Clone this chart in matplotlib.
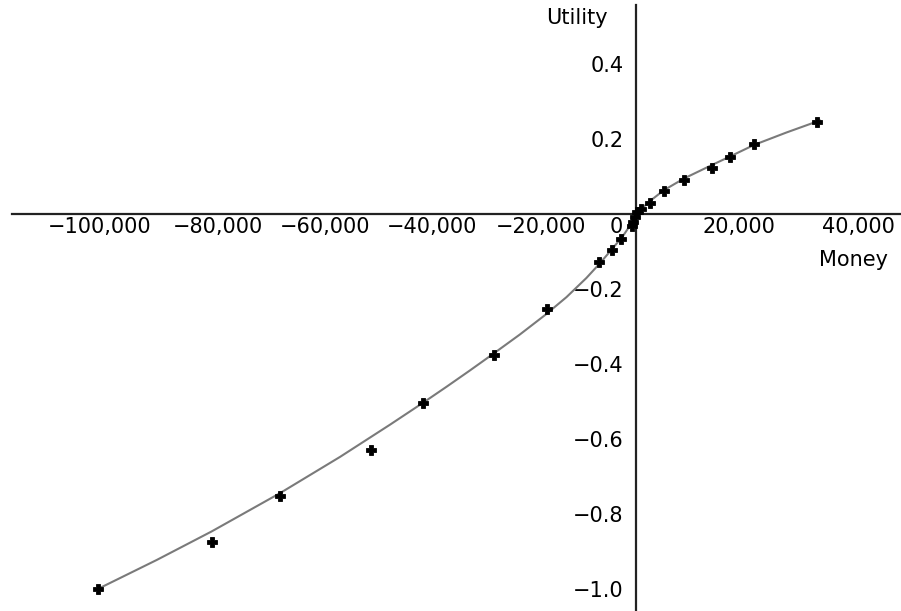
import matplotlib
matplotlib.use("Agg")
import matplotlib.pyplot as plt
from matplotlib.transforms import ScaledTranslation

# ---- data ----
money = [-100000, -78800, -66200, -49300, -39600, -26300, -16600, -6800,
         -4500, -2700, -800, -600, -200, 200, 900, 2600, 5200, 8900,
         14100, 17500, 22000, 33600]
utility = [-1.0, -0.875, -0.751, -0.629, -0.503, -0.377, -0.254, -0.129,
           -0.095, -0.068, -0.031, -0.021, -0.007, 0.006, 0.013, 0.029,
           0.061, 0.091, 0.122, 0.151, 0.186, 0.246]

# fitted curve
curve_money = [-100000, -89100, -78900, -66200, -55000, -45700, -39500,
               -35200, -30900, -26500, -21600, -16900, -12900, -9200, -6700,
               -4200, -2400, -800, 0, 2600, 5200, 8900, 14100, 17500, 22000,
               28000, 34200]
curve_utility = [-1.0, -0.923, -0.847, -0.745, -0.648, -0.562, -0.503,
                 -0.461, -0.418, -0.373, -0.322, -0.270, -0.222, -0.171,
                 -0.132, -0.090, -0.059, -0.025, 0.0, 0.034, 0.063, 0.094,
                 0.130, 0.153, 0.184, 0.217, 0.249]

x_ticks = [-100000, -80000, -60000, -40000, -20000, 0, 20000, 40000]
x_tick_labels = ["\u2212100,000", "\u221280,000", "\u221260,000", "\u221240,000",
                 "\u221220,000", "0", "20,000", "40,000"]
y_ticks = [-1.0, -0.8, -0.6, -0.4, -0.2, 0.2, 0.4]
y_tick_labels = ["\u22121.0", "\u22120.8", "\u22120.6", "\u22120.4", "\u22120.2",
                 "0.2", "0.4"]

x_label = "Money"
y_label = "Utility"

# ---- figure ----
plt.rcParams['font.family'] = ['DejaVu Sans']
FS = 15

fig = plt.figure(figsize=(9.01, 6.11), dpi=100)
ax = fig.add_axes([12 / 901, 0.0, 889 / 901, 606 / 611])

for side in ("top", "right"):
    ax.spines[side].set_visible(False)
ax.spines["left"].set_position(("data", 0))
ax.spines["bottom"].set_position(("data", 0))
for side in ("left", "bottom"):
    ax.spines[side].set_linewidth(1.6)
    ax.spines[side].set_color("#222222")

ax.set_xlim(-116000, 49300)
ax.set_ylim(-1.059, 0.557)

ax.plot(curve_money, curve_utility, color="#7a7a7a", lw=1.5, zorder=2,
        solid_joinstyle="round")
ax.plot(money, utility, linestyle="none", marker="P", markersize=6.5,
        color="black", markeredgecolor="black", markeredgewidth=0.6, zorder=3)

ax.set_xticks(x_ticks)
ax.set_xticklabels(x_tick_labels, fontsize=FS)
ax.set_yticks(y_ticks)
ax.set_yticklabels(y_tick_labels, fontsize=FS)
ax.tick_params(axis="x", length=0, pad=2)
ax.tick_params(axis="y", length=0, pad=9)

# hand-placed label offsets (pixels) as in the original typesetting
x_offsets = [2, 12, 12, 11, 13, -20, -4, 7]
for lab, dx in zip(ax.get_xticklabels(), x_offsets):
    lab.set_transform(lab.get_transform() + ScaledTranslation(dx / 100, 0, fig.dpi_scale_trans))

ax.text(40500, -0.123, x_label, fontsize=FS, ha="center", va="center")
ax.text(-10900, 0.523, y_label, fontsize=FS, ha="center", va="center")

fig.savefig("out.png", dpi=100)
